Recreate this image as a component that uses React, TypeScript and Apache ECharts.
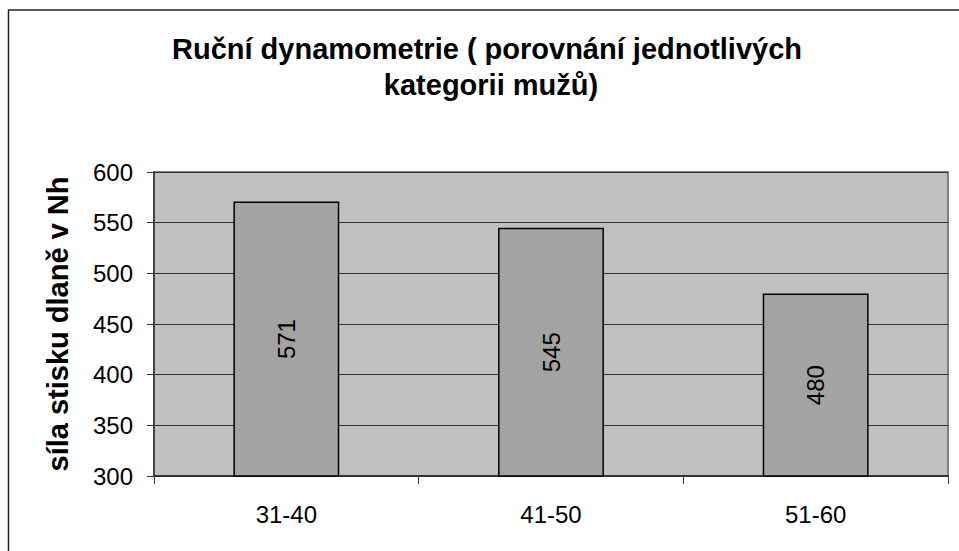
import React, { useEffect, useRef } from "react";
import * as echarts from "echarts";

const categories = ["31-40", "41-50", "51-60"];
const values = [571, 545, 480];
const titleLine1 = "Ruční dynamometrie ( porovnání jednotlivých";
const titleLine2 = "kategorii mužů)";
const yAxisTitle = "síla stisku dlaně v Nh";

export default function App() {
  const ref = useRef<HTMLDivElement>(null);
  useEffect(() => {
    if (!ref.current) return;
    const chart = echarts.init(ref.current, null, { renderer: "svg" });
    const font = "'Liberation Sans', Arial, sans-serif";
    chart.setOption({
      animation: false,
      backgroundColor: "#ffffff",
      graphic: [
        {
          type: "rect",
          shape: { x: 8.5, y: 10, width: 1000, height: 1000 },
          style: { fill: "none", stroke: "#222", lineWidth: 1.5 },
          silent: true,
        },
        {
          type: "text",
          x: 487,
          y: 49,
          style: {
            text: titleLine1,
            fontFamily: font,
            fontWeight: "bold",
            fontSize: 29,
            fill: "#000",
            align: "center",
            verticalAlign: "middle",
          },
        },
        {
          type: "text",
          x: 491,
          y: 85,
          style: {
            text: titleLine2,
            fontFamily: font,
            fontWeight: "bold",
            fontSize: 29,
            fill: "#000",
            align: "center",
            verticalAlign: "middle",
          },
        },
      ],
      grid: {
        left: 154,
        top: 172,
        right: 11,
        bottom: 75,
        show: true,
        backgroundColor: "#c0c0c0",
        borderColor: "#808080",
        borderWidth: 2,
      },
      xAxis: {
        type: "category",
        data: categories,
        axisLine: { lineStyle: { color: "#333", width: 2 } },
        axisTick: { show: true, length: 8, lineStyle: { color: "#333", width: 1 } },
        axisLabel: { color: "#000", fontFamily: font, fontSize: 24, margin: 26 },
      },
      yAxis: {
        type: "value",
        min: 300,
        max: 600,
        interval: 50,
        name: yAxisTitle,
        nameLocation: "middle",
        nameGap: 82,
        nameRotate: 90,
        nameTextStyle: { color: "#000", fontFamily: font, fontWeight: "bold", fontSize: 29 },
        axisLine: { show: true, lineStyle: { color: "#333", width: 1.5 } },
        axisTick: { show: true, length: 7, lineStyle: { color: "#333", width: 1 } },
        axisLabel: { color: "#000", fontFamily: font, fontSize: 24, margin: 21 },
        splitLine: { show: true, lineStyle: { color: "#333", width: 1.2 } },
      },
      series: [
        {
          type: "bar",
          data: values,
          barWidth: "40%",
          itemStyle: { color: "#a3a3a3", borderColor: "#000", borderWidth: 1.5 },
          label: {
            show: true,
            position: "inside",
            rotate: 90,
            color: "#000",
            fontFamily: font,
            fontSize: 24,
          },
        },
      ],
    });
    return () => chart.dispose();
  }, []);
  return (
    <div
      ref={ref}
      style={{ position: "fixed", left: 0, top: 0, width: 959, height: 551 }}
    />
  );
}
